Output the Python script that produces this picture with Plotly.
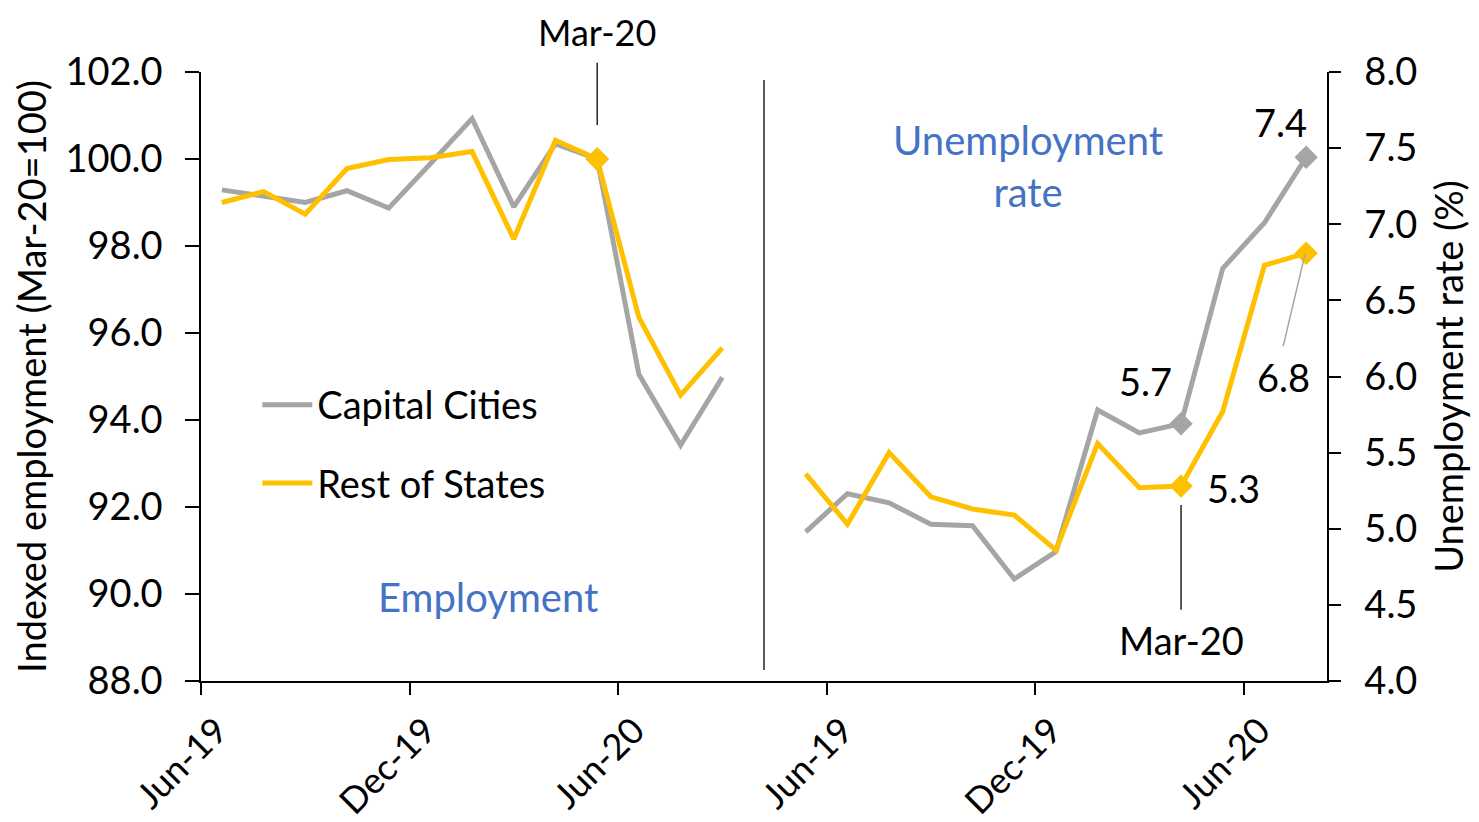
import plotly.graph_objects as go

# ---- data ----
months = ["Jun-19", "Jul-19", "Aug-19", "Sep-19", "Oct-19", "Nov-19", "Dec-19",
          "Jan-20", "Feb-20", "Mar-20", "Apr-20", "May-20", "Jun-20"]
capital_emp = [99.29, 99.15, 99.0, 99.27, 98.87, 99.89, 100.93, 98.9, 100.35, 100.0, 95.05, 93.42, 94.98]
rest_emp = [99.0, 99.25, 98.73, 99.78, 99.99, 100.03, 100.17, 98.16, 100.43, 100.0, 96.36, 94.57, 95.66]
capital_ur = [4.98, 5.23, 5.17, 5.03, 5.02, 4.67, 4.85, 5.78, 5.63, 5.69, 6.71, 7.01, 7.44]
rest_ur = [5.36, 5.03, 5.50, 5.21, 5.13, 5.09, 4.86, 5.56, 5.27, 5.28, 5.77, 6.73, 6.81]
tick_labels = ["Jun-19", "Dec-19", "Jun-20", "Jun-19", "Dec-19", "Jun-20"]
series_names = ["Capital Cities", "Rest of States"]

GRAY = "#A5A5A5"
GOLD = "#FFC000"
BLUE = "#4472C4"
FONT = "Lato"
FS = 38

n = len(months)
x_left = list(range(n))
x_right = [i + n + 1 for i in range(n)]
mar_i = months.index("Mar-20")
last_i = n - 1

fig = go.Figure()

fig.add_trace(go.Scatter(x=x_left, y=capital_emp, mode="lines", name=series_names[0],
                         line=dict(color=GRAY, width=5), legendgroup="a"))
fig.add_trace(go.Scatter(x=x_left, y=rest_emp, mode="lines", name=series_names[1],
                         line=dict(color=GOLD, width=5), legendgroup="b"))
fig.add_trace(go.Scatter(x=x_right, y=capital_ur, mode="lines", yaxis="y2", showlegend=False,
                         line=dict(color=GRAY, width=5)))
fig.add_trace(go.Scatter(x=x_right, y=rest_ur, mode="lines", yaxis="y2", showlegend=False,
                         line=dict(color=GOLD, width=5)))

# highlighted markers
fig.add_trace(go.Scatter(x=[x_left[mar_i]], y=[capital_emp[mar_i]], mode="markers", showlegend=False,
                         marker=dict(symbol="diamond", size=18, color=GRAY)))
fig.add_trace(go.Scatter(x=[x_left[mar_i]], y=[rest_emp[mar_i]], mode="markers", showlegend=False,
                         marker=dict(symbol="diamond", size=18, color=GOLD)))
fig.add_trace(go.Scatter(x=[x_right[mar_i], x_right[last_i]], y=[capital_ur[mar_i], capital_ur[last_i]],
                         mode="markers", yaxis="y2", showlegend=False,
                         marker=dict(symbol="diamond", size=18, color=GRAY)))
fig.add_trace(go.Scatter(x=[x_right[mar_i], x_right[last_i]], y=[rest_ur[mar_i], rest_ur[last_i]],
                         mode="markers", yaxis="y2", showlegend=False,
                         marker=dict(symbol="diamond", size=18, color=GOLD)))

tickvals = [-0.5, 4.5, 9.5, 14.5, 19.5, 24.5]

fig.update_layout(
    width=1479, height=822,
    margin=dict(l=193, r=160, t=64, b=149, autoexpand=False),
    paper_bgcolor="white", plot_bgcolor="white",
    font=dict(family=FONT, size=FS, color="black"),
    xaxis=dict(range=[-0.5, 26.5], tickvals=tickvals, ticktext=tick_labels, tickangle=-45,
               showgrid=False, zeroline=False, showline=True, linecolor="black", linewidth=2,
               ticks="outside", ticklen=12, tickwidth=1.5, tickcolor="black", automargin=False,
               ticklabelshift=16, tickfont=dict(size=36)),
    yaxis=dict(range=[88, 102], dtick=2, tickformat=".1f", showgrid=False, zeroline=False,
               showline=True, linecolor="black", linewidth=1.5, automargin=False,
               ticks="outside", ticklen=14, tickwidth=1.5, tickcolor="black",
               ticklabelstandoff=15,
               title=dict(text="Indexed employment (Mar-20=100)", standoff=9, font=dict(size=FS))),
    yaxis2=dict(range=[4, 8], dtick=0.5, tickformat=".1f", overlaying="y", side="right",
                showgrid=False, zeroline=False, showline=True, linecolor="black", linewidth=1.5,
                ticks="outside", ticklen=12, tickwidth=1.5, tickcolor="black", automargin=False,
                ticklabelstandoff=16,
                title=dict(text="Unemployment rate (%)", standoff=20, font=dict(size=FS))),
    legend=dict(x=0.05, y=0.505, xanchor="left", yanchor="top", bgcolor="rgba(0,0,0,0)",
                font=dict(size=FS), tracegroupgap=26, itemwidth=50),
    showlegend=True,
)

shapes = [
    dict(type="line", xref="x", yref="paper", x0=n, x1=n, y0=0.018, y1=0.987,
         line=dict(color="black", width=1.3)),
    dict(type="line", xref="x", yref="paper", x0=x_left[mar_i], x1=x_left[mar_i], y0=0.913, y1=1.015,
         line=dict(color="black", width=1.3)),
    dict(type="line", xref="x", yref="paper", x0=x_right[mar_i], x1=x_right[mar_i], y0=0.117, y1=0.289,
         line=dict(color="black", width=1.3)),
    dict(type="line", xref="x", yref="y2", x0=25.45, x1=25.97, y0=6.2, y1=6.8,
         line=dict(color=GRAY, width=1.5)),
]
fig.update_layout(shapes=shapes)

common = dict(showarrow=False, xanchor="center", yanchor="middle")
ann = [
    dict(text="Mar-20", xref="x", yref="paper", x=x_left[mar_i], y=1.066,
         font=dict(size=36), **common),
    dict(text="Mar-20", xref="x", yref="paper", x=x_right[mar_i], y=0.067, **common),
    dict(text="5.7", xref="x", yref="y2", x=22.14, y=5.97, **common),
    dict(text="7.4", xref="x", yref="y2", x=25.38, y=7.67, **common),
    dict(text="5.3", xref="x", yref="y2", x=24.25, y=5.27, **common),
    dict(text="6.8", xref="x", yref="y2", x=25.45, y=6.0, **common),
    dict(text="Employment", xref="x", yref="paper", x=6.38, y=0.138,
         font=dict(color=BLUE, size=FS + 2), **common),
    dict(text="Unemployment<br>rate", xref="x", yref="paper", x=19.33, y=0.846,
         font=dict(color=BLUE, size=FS + 2), **common),
]
fig.update_layout(annotations=ann)

fig.write_html("out.html")
